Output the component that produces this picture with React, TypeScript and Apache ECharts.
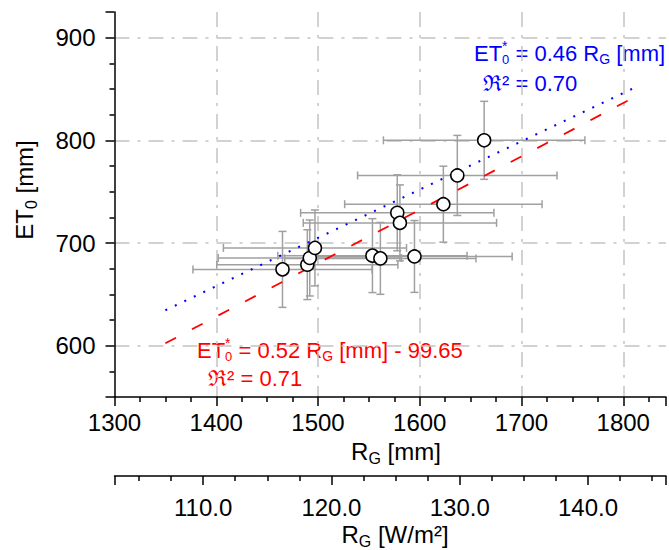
import React, { useEffect, useRef } from 'react';
import * as echarts from 'echarts';

// ---- data ----
const rgMm = [1465.1, 1489.5, 1491.9, 1497.0, 1553.5, 1561.3, 1577.9, 1580.5, 1594.8, 1623.2, 1636.9, 1663.3];
const et0 = [674.3, 678.9, 685.4, 695.2, 687.7, 685.0, 729.4, 719.6, 686.9, 737.8, 765.8, 800.0];
const rgErr = [88, 89, 90, 90, 93, 94, 95, 95, 96, 97, 98, 99];
const etErr = [37, 34, 37, 37, 36, 35, 37, 37, 35, 37, 39, 38];

const fitLinearX = [1350, 1810];
const fitLinearY = [602.35, 841.55];
const fitOriginX = [1350, 1811];
const fitOriginY = [634.5, 851.2];

const yTicks = [600, 700, 800, 900];
const xTicks = [1300, 1400, 1500, 1600, 1700, 1800];
const wTicks = [110, 120, 130, 140];
const MM_PER_WM2 = 12.61;

const X_MIN = 1300;
const X_MAX = 1842;
const Y_MIN = 550;
const Y_MAX = 925;

const FONT = '"Liberation Sans", Arial, Helvetica, sans-serif';
const TICK_FS = 24;

type Seg = { t: string; fs: number; dy?: number; stay?: boolean };

let mctx: CanvasRenderingContext2D | null = null;
function tw(t: string, fs: number): number {
  if (!mctx) mctx = document.createElement('canvas').getContext('2d');
  if (!mctx) return t.length * fs * 0.55;
  mctx.font = `${fs}px ${FONT}`;
  return mctx.measureText(t).width;
}
function runWidth(segs: Seg[]): number {
  return segs.reduce((w, s) => (s.stay ? w : w + tw(s.t, s.fs)), 0);
}
function textRun(segs: Seg[], x0: number, baseline: number, color: string): any[] {
  let x = x0;
  const out: any[] = [];
  for (const s of segs) {
    out.push({
      type: 'text',
      x,
      y: baseline + (s.dy ?? 0) - 0.3465 * s.fs,
      silent: true,
      style: { text: s.t, fontSize: s.fs, fontFamily: FONT, fill: color, align: 'left', verticalAlign: 'middle' },
    });
    if (!s.stay) x += tw(s.t, s.fs);
  }
  return out;
}

export default function App() {
  const ref = useRef<HTMLDivElement>(null);
  useEffect(() => {
    document.body.style.margin = '0';
    if (!ref.current) return;
    const chart = echarts.init(ref.current, undefined, { renderer: 'svg' });

    const gridLine = {
      show: true,
      showMinLine: false,
      showMaxLine: false,
      lineStyle: { color: '#c4c4c4', width: 1.5, type: [15, 8, 3, 8] },
    };
    const axisLine = { show: true, onZero: false, lineStyle: { color: '#000', width: 1.5 } };
    const axisTick = { show: true, length: 9, lineStyle: { color: '#000', width: 1.5 } };
    const minorTick = { show: true, splitNumber: 4, length: 5, lineStyle: { color: '#000', width: 1.5 } };
    const labelBase = { fontSize: TICK_FS, color: '#000', fontFamily: FONT };

    const blue = '#0000ff';
    const red = '#ff0000';

    const ann1: Seg[] = [
      { t: 'ET', fs: 22 }, { t: '*', fs: 14, dy: -10, stay: true }, { t: '0', fs: 13, dy: 3.5 },
      { t: ' = 0.46 R', fs: 22 }, { t: 'G', fs: 14, dy: 3 }, { t: ' [mm]', fs: 22 },
    ];
    const ann2: Seg[] = [{ t: 'ℜ² = 0.70', fs: 22 }];
    const ann3: Seg[] = [
      { t: 'ET', fs: 22 }, { t: '*', fs: 14, dy: -10, stay: true }, { t: '0', fs: 13, dy: 3.5 },
      { t: ' = 0.52 R', fs: 22 }, { t: 'G', fs: 14, dy: 3 }, { t: ' [mm] - 99.65', fs: 22 },
    ];
    const ann4: Seg[] = [{ t: 'ℜ² = 0.71', fs: 22 }];

    const xTitle: Seg[] = [{ t: 'R', fs: 24 }, { t: 'G', fs: 16, dy: 4 }, { t: ' [mm]', fs: 24 }];
    const wTitle: Seg[] = [{ t: 'R', fs: 24 }, { t: 'G', fs: 16, dy: 4 }, { t: ' [W/m²]', fs: 24 }];
    const yTitle: Seg[] = [{ t: 'ET', fs: 24 }, { t: '0', fs: 16, dy: 4 }, { t: ' [mm]', fs: 24 }];

    const graphic: any[] = [
      ...textRun(ann1, 474, 61, blue),
      ...textRun(ann2, 483, 91, blue),
      ...textRun(ann3, 197, 358, red),
      ...textRun(ann4, 208, 386, red),
      ...textRun(xTitle, 396 - runWidth(xTitle) / 2, 460, '#000'),
      ...textRun(wTitle, 395 - runWidth(wTitle) / 2, 543, '#000'),
      {
        type: 'group',
        x: 33,
        y: 190,
        rotation: Math.PI / 2,
        children: textRun(yTitle, -runWidth(yTitle) / 2, 0, '#000'),
      },
    ];

    const errData = rgMm.map((x, i) => [x, et0[i], rgErr[i], etErr[i]]);

    chart.setOption({
      animation: false,
      backgroundColor: '#fff',
      grid: { left: 114.5, right: 0, top: 12, bottom: 153, containLabel: false },
      xAxis: [
        {
          type: 'value', min: X_MIN, max: X_MAX, interval: 100, position: 'bottom',
          axisLine, axisTick, minorTick,
          axisLabel: {
            ...labelBase, margin: 13, showMaxLabel: false,
            formatter: (v: number) => (xTicks.includes(v) ? String(v) : ''),
          },
          splitLine: gridLine,
        },
        {
          type: 'value', min: X_MIN / MM_PER_WM2, max: X_MAX / MM_PER_WM2,
          minInterval: 10, maxInterval: 10, position: 'bottom', offset: 79,
          axisLine, axisTick, minorTick,
          axisLabel: {
            ...labelBase, margin: 19,
            formatter: (v: number) => {
              const r = Math.round(v);
              return Math.abs(v - r) < 1e-6 && wTicks.includes(r) ? r.toFixed(1) : '';
            },
          },
          splitLine: { show: false },
        },
      ],
      yAxis: {
        type: 'value', min: Y_MIN, max: Y_MAX, minInterval: 100, maxInterval: 100,
        axisLine, axisTick, minorTick,
        axisLabel: {
          ...labelBase, margin: 19,
          formatter: (v: number) => (yTicks.includes(v) ? String(v) : ''),
        },
        splitLine: gridLine,
      },
      graphic,
      series: [
        {
          type: 'custom',
          name: 'errors',
          xAxisIndex: 0,
          yAxisIndex: 0,
          data: errData,
          encode: { x: 0, y: 1 },
          z: 2,
          silent: true,
          renderItem: (params: any, api: any) => {
            const x = api.value(0);
            const y = api.value(1);
            const xe = api.value(2);
            const ye = api.value(3);
            const l = api.coord([x - xe, y]);
            const r = api.coord([x + xe, y]);
            const t = api.coord([x, y + ye]);
            const b = api.coord([x, y - ye]);
            const c = 4;
            const st = { stroke: '#a0a0a0', lineWidth: 1.5 };
            const ln = (x1: number, y1: number, x2: number, y2: number) => ({
              type: 'line', shape: { x1, y1, x2, y2 }, style: st,
            });
            return {
              type: 'group',
              children: [
                ln(l[0], l[1], r[0], r[1]),
                ln(l[0], l[1] - c, l[0], l[1] + c),
                ln(r[0], r[1] - c, r[0], r[1] + c),
                ln(t[0], t[1], b[0], b[1]),
                ln(t[0] - c, t[1], t[0] + c, t[1]),
                ln(b[0] - c, b[1], b[0] + c, b[1]),
              ],
            };
          },
        },
        {
          type: 'line',
          name: 'linear fit',
          data: fitLinearX.map((x, i) => [x, fitLinearY[i]]),
          showSymbol: false,
          symbol: 'none',
          z: 3,
          lineStyle: { color: red, width: 1.8, type: [12, 18] },
        },
        {
          type: 'line',
          name: 'origin fit',
          data: fitOriginX.map((x, i) => [x, fitOriginY[i]]),
          showSymbol: false,
          symbol: 'none',
          z: 3,
          lineStyle: { color: blue, width: 2, type: [2, 8.5] },
        },
        {
          type: 'scatter',
          name: 'ET0',
          data: rgMm.map((x, i) => [x, et0[i]]),
          symbol: 'circle',
          symbolSize: 13,
          z: 5,
          itemStyle: { color: '#fff', borderColor: '#000', borderWidth: 1.5, opacity: 1 },
        },
      ],
    });
    return () => chart.dispose();
  }, []);
  return (
    <div
      ref={ref}
      style={{ width: 669, height: 550, position: 'absolute', left: 0, top: 0, overflow: 'hidden' }}
    />
  );
}
